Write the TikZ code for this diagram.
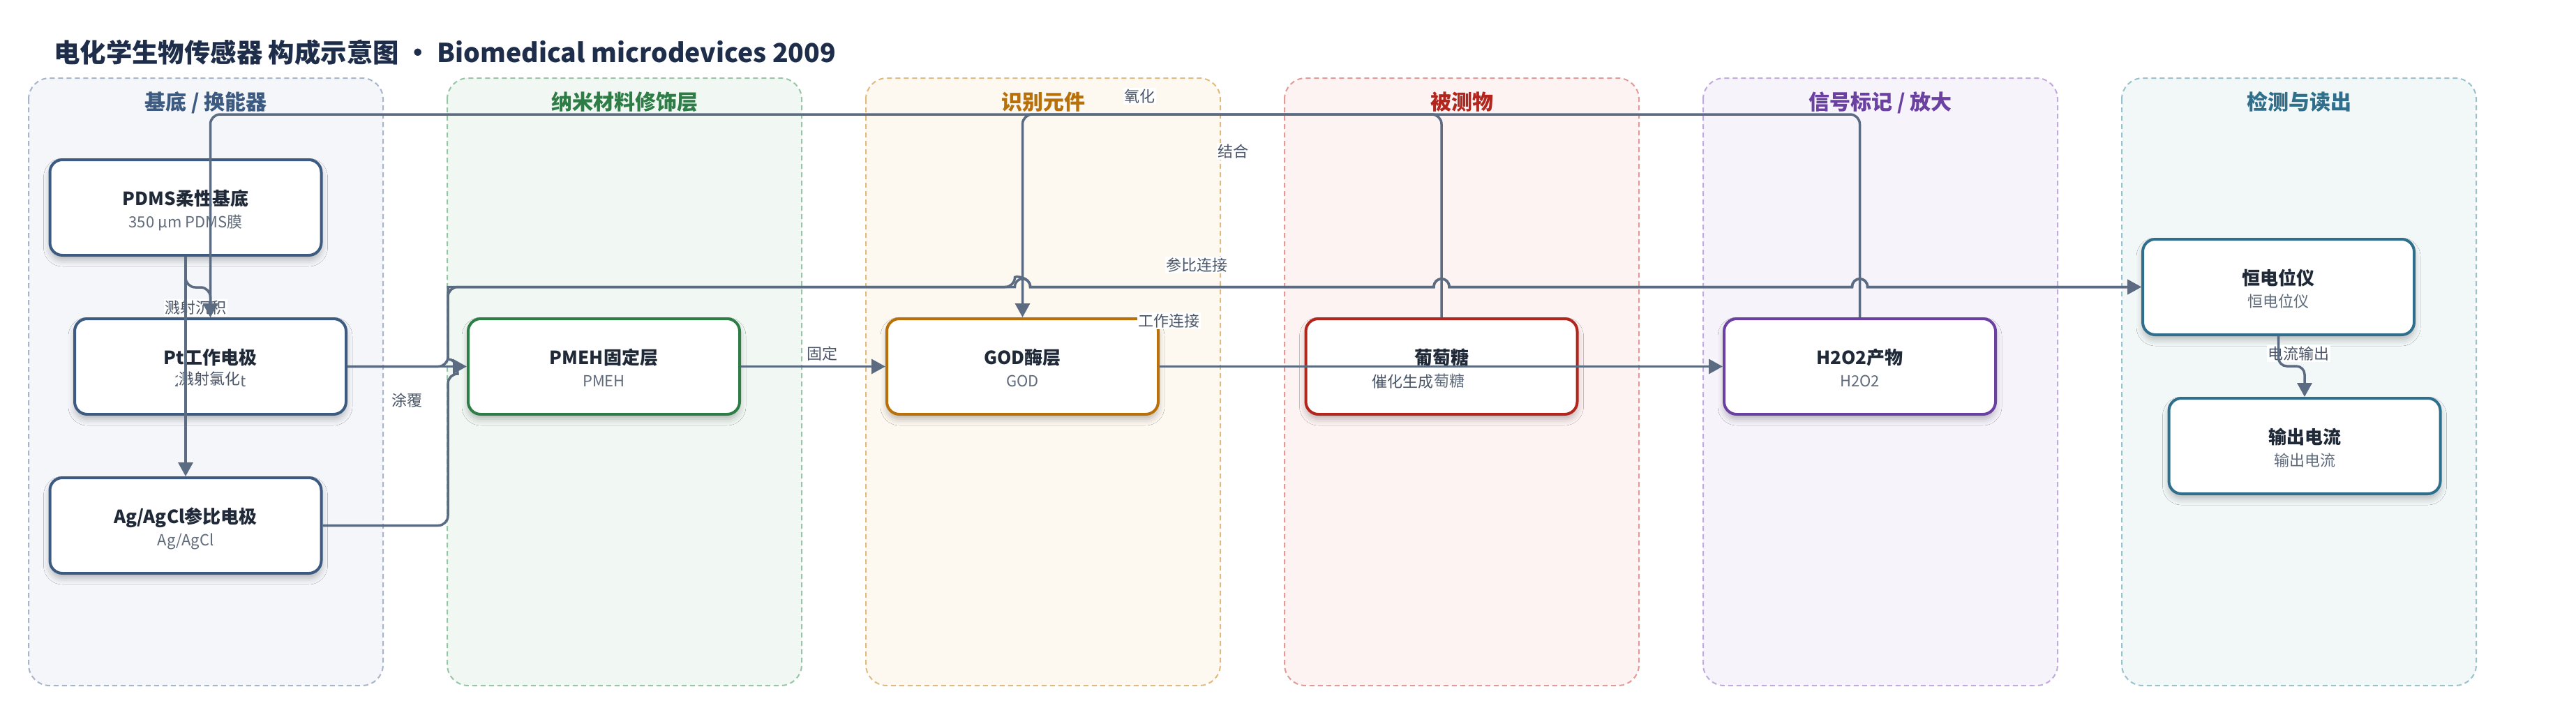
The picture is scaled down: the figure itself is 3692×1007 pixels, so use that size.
\documentclass[tikz,border=0pt]{standalone}
\usepackage{fontspec}
\setmainfont{Noto Sans CJK SC}
\usetikzlibrary{arrows.meta,shadows.blur}

\definecolor{edgec}{HTML}{5B6B82}
\definecolor{titlec}{HTML}{1E2D4A}
\definecolor{ntext}{HTML}{1F2937}
\definecolor{stext}{HTML}{5F6B7B}
\definecolor{ltext}{HTML}{4A5568}
\definecolor{laA}{HTML}{3D5A80}\definecolor{lbA}{HTML}{A6B5CA}\definecolor{lfA}{HTML}{F4F6FA}
\definecolor{laB}{HTML}{2E7D46}\definecolor{lbB}{HTML}{97C5A5}\definecolor{lfB}{HTML}{F1F8F3}
\definecolor{laC}{HTML}{B8700A}\definecolor{lbC}{HTML}{E0BA7E}\definecolor{lfC}{HTML}{FDF8F0}
\definecolor{laD}{HTML}{B3261E}\definecolor{lbD}{HTML}{E39A96}\definecolor{lfD}{HTML}{FDF3F2}
\definecolor{laE}{HTML}{6A40A0}\definecolor{lbE}{HTML}{C3AADE}\definecolor{lfE}{HTML}{F6F3FB}
\definecolor{laF}{HTML}{2F6F8C}\definecolor{lbF}{HTML}{9AC2CC}\definecolor{lfF}{HTML}{F2F7F8}

\newcommand\mknode[7]{%
  \node[nbox=#4] (#1) at (#2,#3) {};
  \node[ntitle] at ([yshift=3pt]#1.center) {#5};
  \node[nsub] at ([yshift=-29pt]#1.center) {#6};
}

\begin{document}
\begin{tikzpicture}[x=1pt,y=-1pt,
  lanebox/.style={rounded corners=30pt, dash pattern=on 7pt off 5pt, line width=2pt},
  lanehead/.style={anchor=base, inner sep=0, font=\bfseries\fontsize{30}{34}\selectfont},
  nbox/.style={draw=#1, line width=4pt, fill=white, rounded corners=18pt,
    minimum width=389pt, minimum height=137pt, inner sep=0,
    blur shadow={shadow xshift=0pt, shadow yshift=-7pt, shadow blur radius=9pt, shadow opacity=25}},
  ntitle/.style={anchor=base, inner sep=0, text=ntext, font=\bfseries\fontsize{26}{30}\selectfont},
  nsub/.style={anchor=base, inner sep=0, text=stext, font=\fontsize{22}{26}\selectfont},
  elabel/.style={fill=white, inner sep=1.5pt, text=ltext, font=\fontsize{22}{26}\selectfont},
  conn/.style={draw=edgec, line width=3.5pt, rounded corners=14pt},
  arr/.style={-{Triangle[length=20pt,width=21pt]}}
]
\useasboundingbox[fill=white] (0,0) rectangle (3692,1007);

% title
\node[anchor=base west, inner sep=0, text=titlec, font=\bfseries\fontsize{37.4}{42}\selectfont] (title) at (77,89)
  {电化学生物传感器 构成示意图 · Biomedical microdevices 2009};

% lanes
\path[lanebox, draw=lbA, fill=lfA] (41,112) rectangle (549,983);
\path[lanebox, draw=lbB, fill=lfB] (641,112) rectangle (1149,983);
\path[lanebox, draw=lbC, fill=lfC] (1241,112) rectangle (1749,983);
\path[lanebox, draw=lbD, fill=lfD] (1841,112) rectangle (2349,983);
\path[lanebox, draw=lbE, fill=lfE] (2441,112) rectangle (2949,983);
\path[lanebox, draw=lbF, fill=lfF] (3041,112) rectangle (3549,983);

\node[lanehead, text=laA] (hA) at (295,157) {基底 / 换能器};
\node[lanehead, text=laB] (hB) at (895,157) {纳米材料修饰层};
\node[lanehead, text=laC] (hC) at (1495,157) {识别元件};
\node[lanehead, text=laD] (hD) at (2095,157) {被测物};
\node[lanehead, text=laE] (hE) at (2695,157) {信号标记 / 放大};
\node[lanehead, text=laF] (hF) at (3295,157) {检测与读出};

% nodes
\mknode{pdms}{266}{297.5}{laA}{PDMS柔性基底}{350 μm PDMS膜}{}
\mknode{pt}{301.5}{525.5}{laA}{Pt工作电极}{200 nm Pt}{}
\mknode{ag}{266}{753.5}{laA}{Ag/AgCl参比电极}{Ag/AgCl}{}
\mknode{pmeh}{865.5}{525.5}{laB}{PMEH固定层}{PMEH}{}
\mknode{god}{1465.5}{525.5}{laC}{GOD酶层}{GOD}{}
\mknode{glu}{2066}{525.5}{laD}{葡萄糖}{葡萄糖}{}
\mknode{hoo}{2665.5}{525.5}{laE}{H2O2产物}{H2O2}{}
\mknode{heng}{3265.5}{411.5}{laF}{恒电位仪}{恒电位仪}{}
\mknode{iout}{3303}{639.5}{laF}{输出电流}{输出电流}{}

% edge labels
\node[elabel] (l1) at (280,441) {溅射沉积};
\node[elabel] (l2) at (300,543) {溅射氯化};
\node[elabel] (l3) at (1633,138) {氧化};
\node[elabel] (l4) at (1767,217) {结合};
\node[elabel] (l5) at (583,574) {涂覆};
\node[elabel] (l6) at (1715,380) {参比连接};
\node[elabel] (l7) at (1675,460) {工作连接};
\node[elabel] (l8) at (1178,507) {固定};
\node[elabel] (l9) at (2010,547) {催化生成};
\node[elabel] (l10) at (3294,507) {电流输出};

% connectors
\draw[conn,arr] (pdms.south) -- (ag.north);
\draw[conn,arr] (pdms.south) -- (266,412) -- (301.5,412) -- (pt.north);
\draw[conn,arr] (hoo.north) -- (2665.5,164) -- (301.5,164) -- (pt.north);
\draw[conn,arr] (glu.north) -- (2066,164) -- (1465.5,164) -- (god.north);
\draw[conn,arr] (pt.east) -- (pmeh.west);
\draw[conn,arr] (pmeh.east) -- (god.west);
\draw[conn,arr] (god.east) -- (hoo.west);
\draw[conn,arr] (pt.east) -- (642,525.5) -- (642,411.5)
  -- (1454.5,411.5) [sharp corners] .. controls (1454.5,396) and (1476.5,396) .. (1476.5,411.5)
  -- (2055,411.5) .. controls (2055,396) and (2077,396) .. (2077,411.5)
  -- (2654.5,411.5) .. controls (2654.5,396) and (2676.5,396) .. (2676.5,411.5)
  -- (heng.west);
\draw[conn,arr] (ag.east) -- (642,753.5) -- (642,536) [sharp corners] .. controls (656,536) and (656,515) .. (642,515) -- (642,411.5)
  -- (1454.5,411.5) .. controls (1454.5,396) and (1476.5,396) .. (1476.5,411.5)
  -- (2055,411.5) .. controls (2055,396) and (2077,396) .. (2077,411.5)
  -- (2654.5,411.5) .. controls (2654.5,396) and (2676.5,396) .. (2676.5,411.5)
  -- (heng.west);
\draw[conn,arr,rounded corners=12pt] (heng.south) -- (3265.5,525) -- (3303,525) -- (iout.north);
\end{tikzpicture}
\end{document}
